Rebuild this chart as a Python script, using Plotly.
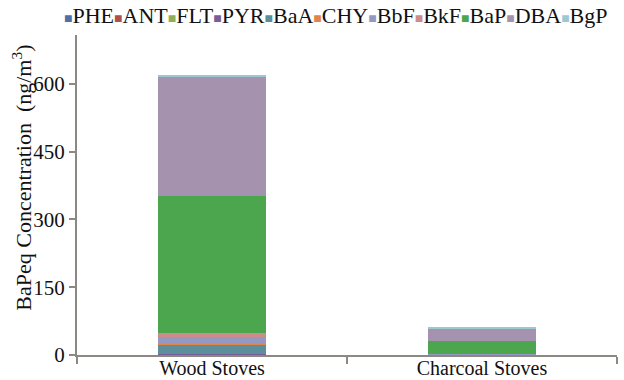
import plotly.graph_objects as go

# BaP-equivalent concentration of each PAH, stacked per stove type (ng/m3)
categories = ["Wood Stoves", "Charcoal Stoves"]
species = ["PHE", "ANT", "FLT", "PYR", "BaA", "CHY", "BbF", "BkF", "BaP", "DBA", "BgP"]
PHE = [0.3, 0.1]
ANT = [0.5, 0.1]
FLT = [0.3, 0.1]
PYR = [0.4, 0.1]
BaA = [21.0, 0.8]
CHY = [1.2, 0.1]
BbF = [17.0, 1.0]
BkF = [7.3, 0.4]
BaP = [304.8, 27.5]
DBA = [263.6, 29.4]
BgP = [3.0, 1.5]
series = [PHE, ANT, FLT, PYR, BaA, CHY, BbF, BkF, BaP, DBA, BgP]

colors = ["#4F6FA8", "#B0504C", "#8FAE5A", "#775E98", "#5A8F9B", "#E0844A",
          "#9599C2", "#CD8C8B", "#4CA64E", "#A592AE", "#9CC8D2"]

FONT = "Liberation Serif"
AXIS = "#8C8884"

fig = go.Figure()
for name, vals, col in zip(species, series, colors):
    fig.add_trace(go.Bar(x=categories, y=vals, name=name, marker_color=col,
                         marker_line_width=0, width=0.4, showlegend=False))

# Legend row across the top: coloured square followed by the species name
legend_text = "".join(
    f"<span style='color:{c};font-size:14px'>■</span>{n}"
    for n, c in zip(species, colors)
)
fig.add_annotation(text=legend_text, xref="paper", yref="paper",
                   x=0.48, y=1.0, xanchor="center", yanchor="bottom", yshift=5,
                   showarrow=False, font=dict(family=FONT, size=22, color="#111"))

# Vertical axis title
fig.add_annotation(text="BaPeq Concentration  (ng/m<sup>3</sup>)",
                   xref="paper", yref="paper", x=-0.102, y=0.554,
                   xanchor="center", yanchor="middle", textangle=-90,
                   showarrow=False, font=dict(family=FONT, size=22, color="#111"))

fig.update_layout(
    barmode="stack",
    width=624, height=380,
    margin=dict(l=77, r=7, t=35, b=24.5, autoexpand=False),
    paper_bgcolor="white", plot_bgcolor="white",
    font=dict(family=FONT, size=20, color="#111"),
    xaxis=dict(showline=True, linecolor=AXIS, linewidth=2, automargin=False,
               ticks="outside", tickson="boundaries", ticklen=7,
               tickcolor=AXIS, tickwidth=2, showgrid=False,
               ticklabelstandoff=-6,
               tickfont=dict(family=FONT, size=20, color="#111")),
    yaxis=dict(range=[0, 708], tickvals=[0, 150, 300, 450, 600],
               showline=True, linecolor=AXIS, linewidth=2, automargin=False,
               ticks="outside", ticklen=6, tickcolor=AXIS, tickwidth=2,
               showgrid=False, zeroline=False,
               tickfont=dict(family=FONT, size=21, color="#111")),
)

fig.write_html("out.html")
